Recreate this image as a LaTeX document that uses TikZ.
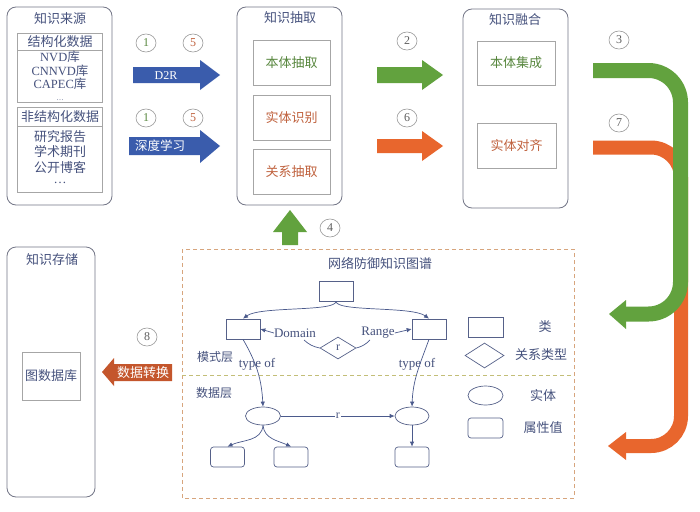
\documentclass[tikz,border=0pt]{standalone}
\usepackage{fontspec}
\setmainfont{Liberation Serif}
\newfontfamily\cjk{Noto Sans CJK SC}
\usetikzlibrary{shapes.geometric,arrows.meta}
\definecolor{ttl}{RGB}{70,82,125}
\definecolor{bord}{RGB}{115,118,135}
\definecolor{gA}{RGB}{98,162,62}
\definecolor{oA}{RGB}{232,102,45}
\definecolor{bA}{RGB}{58,92,172}
\definecolor{rA}{RGB}{196,86,44}
\definecolor{gT}{RGB}{88,135,62}
\definecolor{oT}{RGB}{192,98,62}
\definecolor{edgec}{RGB}{75,90,140}
\definecolor{dashc}{RGB}{215,165,125}
\definecolor{sepc}{RGB}{195,190,120}
\definecolor{numc}{RGB}{95,95,95}
\tikzset{
  panel/.style={draw=bord, rounded corners=9pt, line width=0.8pt, inner sep=0pt},
  ibox/.style={draw=gray!70, line width=0.7pt, inner sep=0pt},
  zht/.style={font=\fontsize{13}{15}\selectfont\cjk, text=ttl, inner sep=0pt},
  lat/.style={font=\fontsize{13}{15}\selectfont, text=ttl, inner sep=0pt},
  lines/.style={font=\fontsize{12.5}{13.5}\selectfont, text=ttl, inner sep=0pt, align=center, anchor=north},
  num/.style={draw=gray!80, ellipse, minimum width=20, minimum height=18, inner sep=0pt, line width=0.6pt, font=\fontsize{12}{14}\selectfont, text=numc},
  gbox/.style={draw=edgec!80!gray, line width=0.7pt, minimum width=34, minimum height=20, inner sep=0pt},
  gedge/.style={draw=edgec, line width=0.7pt, -{Latex[length=5pt,width=4.5pt]}},
  gline/.style={draw=edgec, line width=0.7pt},
}
\begin{document}
\begin{tikzpicture}[x=1pt,y=-1pt]
\useasboundingbox (0,0) rectangle (700,511);
\fill[white] (0,0) rectangle (700,511);

% ---------- Panel 1: knowledge sources
\node[panel, minimum width=105, minimum height=198] (src) at (59.5,106) {};
\node[zht] (srcT) at (60,19) {知识来源};
\node[ibox, minimum width=85, minimum height=17] (h1) at (59.5,41.5) {};
\node[ibox, minimum width=85, minimum height=52] (c1) at (59.5,76) {};
\node[ibox, minimum width=85, minimum height=19] (h2) at (59.5,116.5) {};
\node[ibox, minimum width=85, minimum height=66] (c2) at (59.5,159) {};
\node[zht] at (60,41.5) {结构化数据};
\node[lines] (l1) at (60,51) {NVD{\cjk 库}\\CNNVD{\cjk 库}\\CAPEC{\cjk 库}};
\node[font=\fontsize{7}{7}\selectfont, text=ttl, inner sep=0pt, anchor=base] (l1d) at (60,100) {…};
\node[zht] at (60,116.5) {非结构化数据};
\node[lines, font=\fontsize{13}{15.5}\selectfont\cjk] (l2) at (60,130) {研究报告\\学术期刊\\公开博客\\[-4pt]{\rmfamily …}};

% ---------- Panel 2: extraction
\node[panel, minimum width=105, minimum height=198] (ext) at (289.5,106) {};
\node[zht] at (290,18) {知识抽取};
\node[ibox, minimum width=77, minimum height=45] (e1) at (291.5,63) {};
\node[ibox, minimum width=77, minimum height=45] (e2) at (291.5,117.5) {};
\node[ibox, minimum width=77, minimum height=45] (e3) at (291.5,171.5) {};
\node[zht, text=gT] at (e1) {本体抽取};
\node[zht, text=oT] at (e2) {实体识别};
\node[zht, text=oT] at (e3) {关系抽取};

% ---------- Panel 3: fusion
\node[panel, minimum width=105, minimum height=199] (fus) at (515.5,108.5) {};
\node[zht] at (515,20) {知识融合};
\node[ibox, minimum width=78, minimum height=44] (f1) at (516,63) {};
\node[ibox, minimum width=79, minimum height=45] (f2) at (516.5,145.5) {};
\node[zht, text=gT] at (f1) {本体集成};
\node[zht, text=oT] at (f2) {实体对齐};

% ---------- Panel 4: storage
\node[panel, minimum width=88, minimum height=250] (sto) at (51,372) {};
\node[zht] at (52,260) {知识存储};
\node[ibox, minimum width=58, minimum height=48] (db) at (51,376) {};
\node[zht] at (db) {图数据库};

% ---------- fat arrows
\fill[bA] (133,67) -- (200,67) -- (200,60) -- (220,75) -- (200,90) -- (200,83) -- (133,83) -- cycle;
\node[font=\fontsize{12}{14}\selectfont, text=white, inner sep=0pt] at (166,75.5) {D2R};
\fill[bA] (129,137) -- (200,137) -- (200,130) -- (220,146) -- (200,163) -- (200,155) -- (129,155) -- cycle;
\node[font=\fontsize{12.5}{14}\selectfont\cjk, text=white, inner sep=0pt] at (160,146) {深度学习};
\node[num, text=gT] at (146,43) {1};
\node[num, text=oT] at (193,43) {5};
\node[num, text=gT] at (146,118) {1};
\node[num, text=oT] at (193,118) {5};

\fill[gA] (377,67) -- (422,67) -- (422,60) -- (443,75) -- (422,90) -- (422,83) -- (377,83) -- cycle;
\fill[oA] (377,139) -- (422,139) -- (422,131) -- (443,146) -- (422,161) -- (422,153) -- (377,153) -- cycle;
\node[num] at (407,41) {2};
\node[num] at (407,118) {6};

% bent pipes
\draw[oA, line width=14pt, rounded corners=30pt] (593,147.5) -- (681,147.5) -- (681,446) -- (624,446);
\fill[oA] (626,432) -- (608,446) -- (626,460) -- cycle;
\draw[gA, line width=15pt, rounded corners=32pt] (593,70.5) -- (680.5,70.5) -- (680.5,314) -- (624,314);
\fill[gA] (626,300) -- (609,314) -- (626,329) -- cycle;
\node[num] at (619,40) {3};
\node[num] at (619,123) {7};

% up arrow 4
\fill[gA] (282,245) -- (282,232) -- (273,232) -- (290,210) -- (307,232) -- (298,232) -- (298,245) -- cycle;
\node[num] at (330,228) {4};

% left arrow 8
\fill[rA] (172,364) -- (114,364) -- (114,358) -- (102,372) -- (114,386) -- (114,381) -- (172,381) -- cycle;
\node[font=\fontsize{13}{15}\selectfont\cjk, text=white, inner sep=0pt] at (143,372.5) {数据转换};
\node[num] at (147,337) {8};

% ---------- knowledge graph region
\draw[dashc, line width=0.7pt, dash pattern=on 4pt off 3pt] (182,249) rectangle (574,498);
\draw[sepc, line width=0.7pt, dash pattern=on 4pt off 3pt] (182,375) -- (574,375);
\node[zht] at (380,263) {网络防御知识图谱};
\node[zht, font=\fontsize{12}{14}\selectfont\cjk] at (215,357) {模式层};
\node[zht, font=\fontsize{12}{14}\selectfont\cjk] at (214,393) {数据层};

\node[gbox] (top) at (336,291) {};
\node[gbox] (lb) at (243,329) {};
\node[gbox] (rb) at (429,329) {};
\node[diamond, draw=edgec!80!gray, line width=0.7pt, minimum width=36, minimum height=22, inner sep=0pt, aspect=1.6, font=\fontsize{12}{14}\selectfont, text=ttl] (rr) at (338,348) {r};
\node[lat] (dom) at (295,333) {Domain};
\node[lat] (ran) at (378,333) {Range};
\node[lat] (t1) at (257,364) {type of};
\node[lat] (t2) at (417,364) {type of};
\coordinate (dl) at (304,340);
\coordinate (rl) at (370,340);

\draw[gedge] (top.south) .. controls (336,312) and (260,306) .. (lb.north);
\draw[gedge] (top.south) .. controls (336,312) and (412,306) .. (rb.north);
\draw[gedge] (dom.west) -- (lb.east);
\draw[gedge] (ran.east) -- (rb.west);
\draw[gline] (rr.west) to[bend left=15] (dl);
\draw[gline] (rr.east) to[bend right=15] (rl);

\node[ellipse, draw=edgec!80!gray, line width=0.7pt, minimum width=35, minimum height=18, inner sep=0pt] (le) at (263,416) {};
\node[ellipse, draw=edgec!80!gray, line width=0.7pt, minimum width=34, minimum height=18, inner sep=0pt] (re) at (412,416) {};
\draw[gedge] (lb.south) to[out=-60,in=93] (le.north);
\draw[gedge] (rb.south) to[out=-110,in=88] (re.north);
\draw[gedge] (le.east) -- node[fill=white, inner sep=1pt, font=\fontsize{12}{14}\selectfont, text=ttl] {r} (re.west);

\node[gbox, rounded corners=3pt] (a1) at (227.5,457) {};
\node[gbox, rounded corners=3pt] (a2) at (291,457) {};
\node[gbox, rounded corners=3pt] (a3) at (412,457) {};
\draw[gedge] (le.south) to[out=-95,in=25] (a1.north);
\draw[gedge] (le.south) to[out=-85,in=155] (a2.north);
\draw[gedge] (re.south) -- (a3.north);

% legend
\node[gbox, minimum width=35] (lgc) at (485.5,327) {};
\node[zht] at (545,327) {类};
\node[diamond, draw=edgec!80!gray, line width=0.7pt, minimum width=39, minimum height=25, inner sep=0pt, aspect=1.56] (lgd) at (484.5,355.5) {};
\node[zht] at (541,355) {关系类型};
\node[ellipse, draw=edgec!80!gray, line width=0.7pt, minimum width=35, minimum height=19, inner sep=0pt] (lge) at (485.5,395.5) {};
\node[zht] at (543,395) {实体};
\node[gbox, minimum width=35, rounded corners=3pt] (lga) at (485.5,428) {};
\node[zht] at (543,428) {属性值};
\end{tikzpicture}
\end{document}
